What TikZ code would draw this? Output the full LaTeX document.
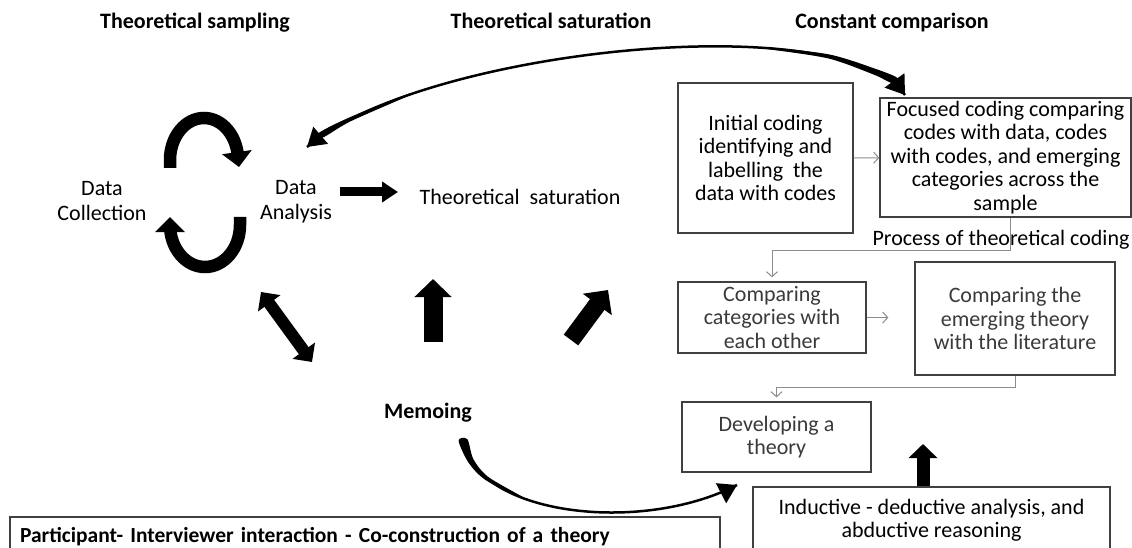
\documentclass[tikz,border=0pt]{standalone}
\usepackage{fontspec}
\setmainfont{Carlito}
\usetikzlibrary{arrows.meta,calc}
\definecolor{boxc}{HTML}{404040}
\definecolor{connc}{HTML}{8C8C8C}
\definecolor{txtg}{HTML}{3A3A3A}
\begin{document}
\begin{tikzpicture}[x=1pt,y=-1pt,
  font=\fontsize{22}{25}\selectfont,
  title/.style={font=\fontsize{22}{25}\selectfont\bfseries, inner sep=0pt, anchor=base},
  lbl/.style={align=center, inner sep=0pt},
  box/.style={draw=boxc, line width=1.3pt, inner sep=0pt, align=center,
    font=\fontsize{22}{23.5}\selectfont},
  conn/.style={draw=connc, line width=1pt, -{Straight Barb[length=5pt,width=11pt]}},
  cyc/.style={line width=12.5pt, -{Triangle[width=29pt,length=15pt]}},
  blk/.style={line width=#1},
  curv/.style={line width=2.5pt},
  head/.style={line width=2.5pt, -{Triangle[width=#1,length=18pt]}}
]
\useasboundingbox (0,0) rectangle (1132,548);
\clip (0,0) rectangle (1132,548);
\fill[white] (0,0) rectangle (1132,548);

% titles
\node[title] (t1) at (195,29) {Theoretical sampling};
\node[title] (t2) at (551,29) {Theoretical saturation};
\node[title] (t3) at (892,29) {Constant comparison};

% left cycle
\node[lbl] (dc) at (102,201) {Data\\Collection};
\node[lbl] (da) at (296,202) {Data\\Analysis};
\node[lbl] (ts) at (520,197) {Theoretical\ \ saturation};
\node[title] (memo) at (428,418) {Memoing};

\draw[cyc] (170,168) -- (170,160) arc[start angle=180,end angle=0,x radius=34pt,y radius=42pt] -- (239,167);
\draw[cyc] (240,217) -- (240,225) arc[start angle=0,end angle=-180,x radius=35pt,y radius=42pt] -- (170,217);

% boxes
\node[box, minimum width=175pt, minimum height=150pt] (init) at (765.5,158) {Initial coding\\identifying and\\labelling\ \ the\\data with codes};
\node[box, minimum width=251pt, minimum height=119pt] (focus) at (1005.5,157.5) {Focused coding comparing\\codes with data, codes\\with codes, and emerging\\categories across the\\sample};
\node[inner sep=0pt] (ptc) at (1001,240) {Process of theoretical coding};
\node[box, text=txtg, minimum width=188pt, minimum height=71pt] (catA) at (772,317.5) {Comparing\\categories with\\each other};
\node[box, text=txtg, minimum width=200pt, minimum height=113pt] (catB) at (1015,318.5) {Comparing the\\emerging theory\\with the literature};
\node[box, text=txtg, minimum width=189pt, minimum height=70pt] (dev) at (776.5,437) {Developing a\\theory};
\node[box, minimum width=357pt, minimum height=66pt] (ind) at (931.5,520) {Inductive - deductive analysis, and\\abductive reasoning};
\node[box, font=\fontsize{21.5}{25}\selectfont\bfseries, align=left, text width=690pt, inner xsep=10pt, minimum height=40pt] (part) at (365,537) {Participant- Interviewer interaction - Co-construction of a theory};

% thin connectors
\draw[conn] (init) -- (focus);
\draw[conn] ([xshift=4.5pt]focus.south) -- ++(0,33) -| ([yshift=4pt]catA.north);
\draw[conn, shorten >=26pt] (catA) -- (catA -| catB.west);
\draw[conn] ([xshift=0.5pt]catB.south) -- ++(0,12) -| ([yshift=4pt]dev.north);

% block arrows
\coordinate (s1) at (340,192); \coordinate (s2) at (398,192);
\draw[blk=9pt, -{Triangle[width=20pt,length=16pt]}] (s1) -- (s2);
\coordinate (m1) at (261,292); \coordinate (m2) at (312,362);
\draw[blk=12pt, {Triangle[width=27pt,length=14pt]}-{Triangle[width=27pt,length=14pt]}] (m1) -- (m2);
\coordinate (u1) at (433,342); \coordinate (u2) at (433,279);
\draw[blk=19pt, -{Triangle[width=36pt,length=18pt]}] (u1) -- (u2);
\coordinate (n1) at (571,340); \coordinate (n2) at (608,290);
\draw[blk=18pt, -{Triangle[width=35pt,length=18pt]}] (n1) -- (n2);
\coordinate (i1) at (923,486); \coordinate (i2) at (923,444);
\draw[blk=13pt, -{Triangle[width=28pt,length=14pt]}] (i1) -- (i2);

% curved arrows
\coordinate (ftip) at (905,95);
\coordinate (dtip) at (307,147);
\draw[curv] (ftip) .. controls (840,5) and (420,50) .. (dtip);
\draw[head=24pt] ($(ftip)!0.162!(840,5)$) -- (ftip);
\draw[head=22pt] ($(dtip)!0.121!(420,50)$) -- (dtip);
\fill plot[smooth cycle, tension=0.5] coordinates {(768,47.3) (829.4,54.5) (876.8,69.3) (897.7,78.1) (891.3,82.7) (874,74.7) (828.6,58.5) (768,49)};
\fill plot[smooth cycle, tension=0.5] coordinates {(406.3,94.7) (348.6,117.8) (318.7,133.0) (322.7,137.6) (350.4,121.4) (406.3,96.7)};
\coordinate (mstart) at (463,440);
\coordinate (dtip2) at (737,485);
\draw[curv] (mstart) .. controls (475,515) and (640,535) .. (dtip2);
\draw[head=22pt] ($(dtip2)!0.165!(640,535)$) -- (dtip2);
\fill plot[smooth cycle, tension=0.5] coordinates {(467.4,439.3) (473.4,459.2) (488.1,476.8) (522.6,497.0) (522,498.8) (485.5,480) (468.4,462.4) (458.6,440.7)};
\end{tikzpicture}
\end{document}
